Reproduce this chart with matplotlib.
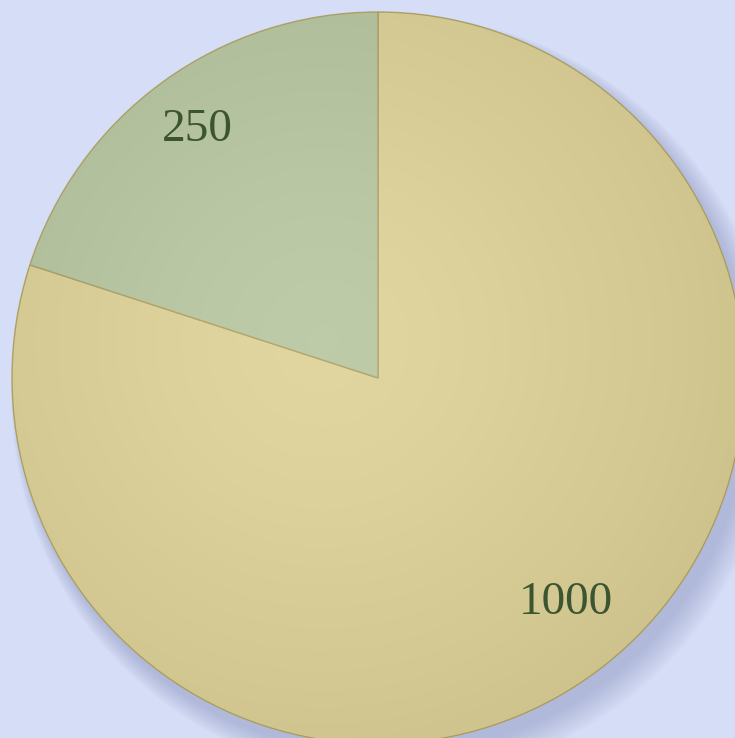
import matplotlib.pyplot as plt
import numpy as np
from matplotlib.patches import Circle

# slice values, clockwise from 12 o'clock
values = [1000, 250]
labels = ['1000', '250']
colors = ['#dfd298', '#b8c7a2']

fig = plt.figure(figsize=(7.35, 7.38), dpi=100)
fig.patch.set_facecolor('#d6ddf6')
ax = fig.add_axes([0, 0, 1, 1])
ax.set_facecolor('#d6ddf6')

# soft shadow towards the lower right
for i in range(12):
    r = 1.0 + 0.004 * i
    ax.add_patch(Circle((0.02 + 0.002 * i, -0.03 - 0.002 * i), r,
                        color='#8790bd', alpha=0.045, lw=0, zorder=0))

wedges, texts = ax.pie(values, colors=colors, startangle=90, counterclock=False,
                       labels=labels, labeldistance=None,
                       wedgeprops=dict(edgecolor='#b0a366', linewidth=1.0))

# light sheen on each slice
yy, xx = np.mgrid[-1:1:400j, -1:1:400j]
shade = np.clip(1 - 0.8 * np.hypot(xx + 0.15, yy - 0.1), 0, 1)
for w in wedges:
    w.set_zorder(1)
    im = ax.imshow(shade, extent=(-1, 1, -1, 1), origin='lower', cmap='Greys_r',
                   alpha=0.08, zorder=2, vmin=0, vmax=1)
    im.set_clip_path(w)

# value labels (radius, angle tweak)
label_r = [0.80, 0.84]
label_da = [4, 0]
for w, lab, d, da in zip(wedges, labels, label_r, label_da):
    ang = np.deg2rad((w.theta1 + w.theta2) / 2 + da)
    ax.text(d * np.cos(ang), d * np.sin(ang), lab, ha='center', va='center',
            fontsize=34, family='Liberation Serif', color='#3b5530', zorder=5)

ax.set_xlim(-378 / 366, 357 / 366)
ax.set_ylim(-360 / 366, 378 / 366)
ax.set_aspect('equal')
ax.axis('off')

fig.savefig('out.png', dpi=100, facecolor=fig.get_facecolor())
